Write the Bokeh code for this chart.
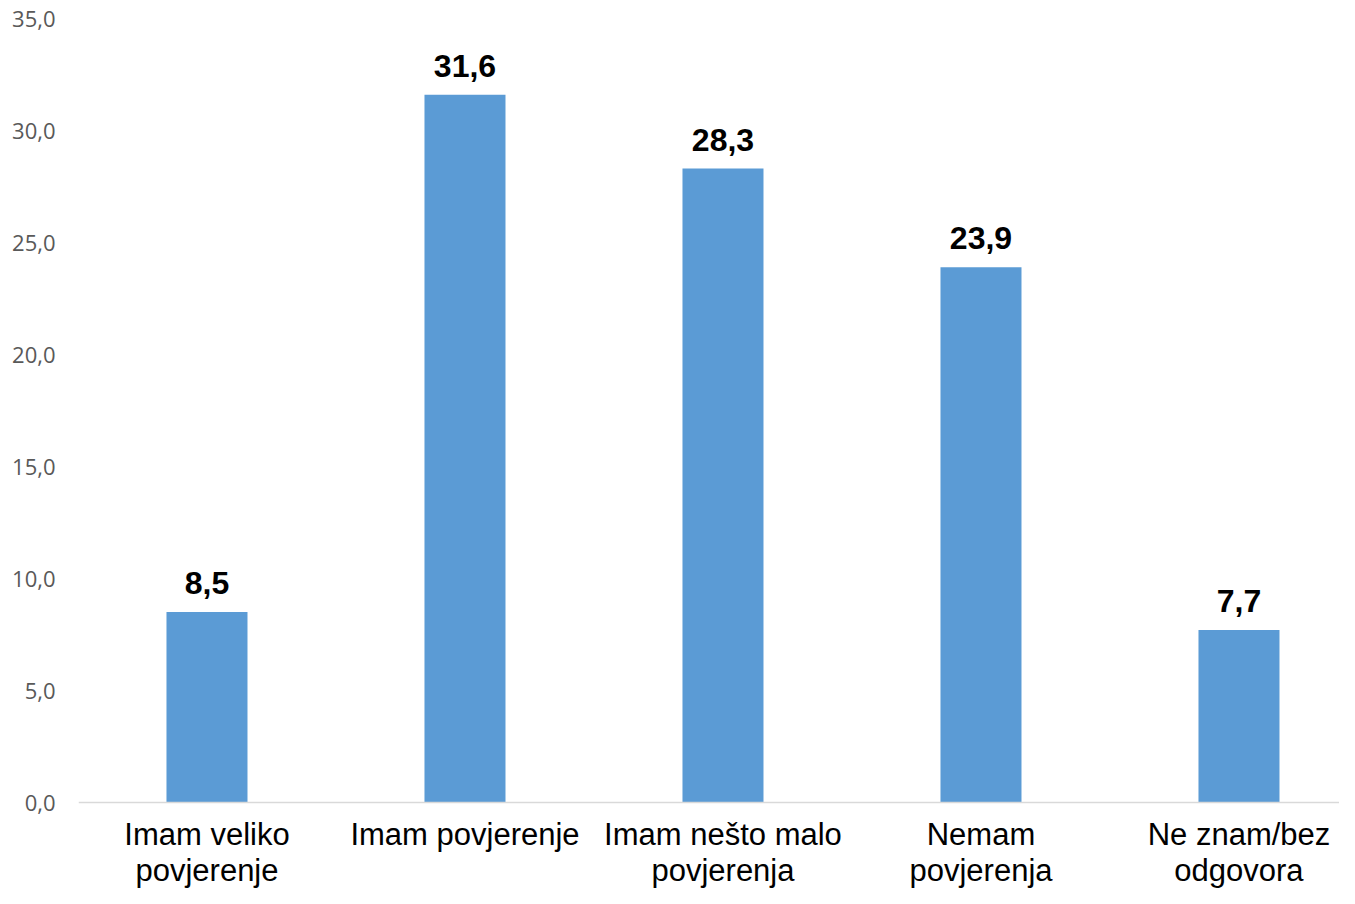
from bokeh.plotting import figure
from bokeh.models import Range1d, FixedTicker, ColumnDataSource, Span
from bokeh.core.properties import value
from bokeh.embed import file_html
from bokeh.resources import INLINE

categories = ["Imam veliko\npovjerenje", "Imam povjerenje", "Imam nešto malo\npovjerenja",
              "Nemam\npovjerenja", "Ne znam/bez\nodgovora"]
values = [8.5, 31.6, 28.3, 23.9, 7.7]
y_ticks = [0, 5, 10, 15, 20, 25, 30, 35]
y_tick_labels = ["0,0", "5,0", "10,0", "15,0", "20,0", "25,0", "30,0", "35,0"]

xs = list(range(len(categories)))
labels = [f"{v:.1f}".replace(".", ",") for v in values]
src = ColumnDataSource(dict(x=xs, top=values, label=labels, base=[0] * len(xs), cat=categories))

W, H = 1339, 888
left, top_b = 78, 18
frame_w = W - left
frame_h = H - top_b
px_per_cat = 258
px_per_unit = 784 / 35
x_start = -0.498
x_end = x_start + frame_w / px_per_cat
y_end = 35
y_start = y_end - frame_h / px_per_unit

p = figure(width=W, height=H, output_backend="svg", toolbar_location=None,
           x_range=Range1d(x_start, x_end), y_range=Range1d(y_start, y_end),
           min_border_left=left, min_border_right=0, min_border_top=top_b, min_border_bottom=0)
p.outline_line_color = None
p.xgrid.visible = False
p.ygrid.visible = False
p.xaxis.visible = False

p.add_layout(Span(location=0, dimension="width", line_color="#D9D9D9", line_width=1.5))

p.vbar(x="x", top="top", width=0.314, source=src, fill_color="#5B9BD5", line_color=None)
p.text(x="x", y="top", text="label", source=src, text_align="center", text_baseline="alphabetic",
       y_offset=-29, text_font=value("Liberation Sans"), text_font_style="bold",
       text_font_size="32px", text_color="#000000")
p.text(x="x", y="base", text="cat", source=src, text_align="center", text_baseline="top",
       y_offset=14, text_font=value("Liberation Sans"), text_font_size="31px",
       text_color="#000000", text_line_height=1.05)

p.yaxis.ticker = FixedTicker(ticks=y_ticks)
p.yaxis.major_label_overrides = {t: l for t, l in zip(y_ticks, y_tick_labels)}
p.yaxis.axis_line_color = None
p.yaxis.major_tick_line_color = None
p.yaxis.minor_tick_line_color = None
p.yaxis.major_label_text_font = "Open Sans"
p.yaxis.major_label_text_font_size = "22px"
p.yaxis.major_label_text_color = "#595959"
p.yaxis.major_label_standoff = 17

open("out.html", "w").write(file_html(p, INLINE))
